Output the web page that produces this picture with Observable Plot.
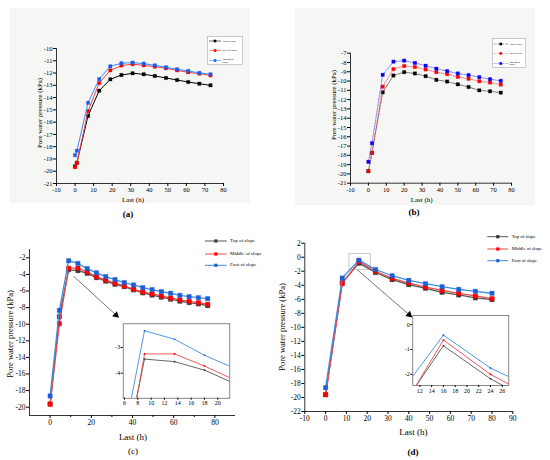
<!DOCTYPE html>
<html><head><meta charset="utf-8">
<script src="https://cdn.jsdelivr.net/npm/d3@7"></script>
<script src="https://cdn.jsdelivr.net/npm/@observablehq/plot@0.6"></script>
<style>
body{margin:0;background:#fff;}
#fig{position:relative;width:550px;height:460px;overflow:hidden;font-family:"Liberation Serif",serif;color:#000;}
.abs{position:absolute;}
.lbl{position:absolute;transform:translate(-50%,-50%);white-space:nowrap;font-family:"Liberation Serif",serif;}
.rot{position:absolute;transform:translate(-50%,-50%) rotate(-90deg);white-space:nowrap;font-family:"Liberation Serif",serif;}
</style></head>
<body><div id="fig"></div>
<script>
// ---------- data ----------
const seriesA = ["Top of slope", "Side of slope", "Bottom of slope"];
const xA = [0, 1, 7, 13, 19, 25, 31, 37, 43, 49, 55, 61, 67, 73];
const aTop = [-19.6, -19.3, -15.49, -13.44, -12.51, -12.16, -12.02, -12.1, -12.24, -12.4, -12.57, -12.73, -12.87, -13.0];
const aSide = [-19.67, -19.32, -15.1, -12.81, -11.78, -11.39, -11.28, -11.37, -11.48, -11.61, -11.78, -11.94, -12.05, -12.19];
const aBottom = [-18.69, -18.33, -14.43, -12.49, -11.45, -11.2, -11.15, -11.23, -11.37, -11.53, -11.69, -11.83, -11.99, -12.1];

const seriesB = ["Top of slope", "Mid of slope", "Bottom of slope"];
const xB = [0, 2, 8, 14, 20, 26, 32, 38, 44, 50, 56, 62, 68, 74];
const bTop = [-19.7, -17.73, -11.22, -9.4, -9.04, -9.18, -9.47, -9.87, -10.05, -10.35, -10.64, -11.0, -11.1, -11.25];
const bMid = [-19.7, -17.73, -10.6, -8.71, -8.38, -8.49, -8.75, -9.04, -9.25, -9.55, -9.76, -10.02, -10.16, -10.38];
const bBottom = [-18.7, -16.69, -9.33, -7.91, -7.8, -8.05, -8.35, -8.67, -8.93, -9.18, -9.36, -9.58, -9.8, -9.98];

const seriesCD = ["Top of slope", "Middle of slope", "Foot of slope"];
const xC = [0, 4.5, 9, 13.5, 18, 22.5, 27, 31.5, 36, 40.5, 45, 49.5, 54, 58.5, 63, 67.5, 72, 76.5];
const cTop = [-19.6, -9.1, -3.45, -3.55, -3.88, -4.4, -4.82, -5.2, -5.48, -5.87, -6.23, -6.5, -6.75, -6.99, -7.23, -7.4, -7.56, -7.77];
const cMid = [-19.66, -9.94, -3.25, -3.25, -3.72, -4.26, -4.7, -5.06, -5.39, -5.79, -6.11, -6.35, -6.6, -6.84, -7.08, -7.24, -7.4, -7.6];
const cFoot = [-18.65, -8.33, -2.35, -2.68, -3.3, -3.81, -4.26, -4.62, -4.98, -5.27, -5.59, -5.83, -6.07, -6.27, -6.52, -6.68, -6.8, -6.92];

const xD = [0, 8, 16, 24, 32, 40, 48, 56, 64, 72, 80];
const dTop = [-19.6, -3.63, -0.85, -2.18, -3.2, -3.91, -4.43, -5.0, -5.38, -5.8, -6.04];
const dMid = [-19.6, -3.77, -0.62, -2.0, -3.02, -3.68, -4.25, -4.72, -5.14, -5.52, -5.9];
const dFoot = [-18.6, -2.97, -0.42, -1.75, -2.64, -3.3, -3.77, -4.2, -4.58, -4.86, -5.14];

// tick labels
const ticksXab = [-10, 0, 10, 20, 30, 40, 50, 60, 70, 80];
const ticksYa = [-21, -20, -19, -18, -17, -16, -15, -14, -13, -12, -11, -10];
const ticksYb = [-21, -20, -19, -18, -17, -16, -15, -14, -13, -12, -11, -10, -9, -8, -7];
const ticksXc = [0, 20, 40, 60, 80];
const ticksYc = [-20, -18, -16, -14, -12, -10, -8, -6, -4, -2];
const ticksXd = [-10, 0, 10, 20, 30, 40, 50, 60, 70, 80, 90];
const ticksYd = [-22, -20, -18, -16, -14, -12, -10, -8, -6, -4, -2, 0, 2];
const ticksXcIn = [6, 8, 10, 12, 14, 16, 18, 20];
const ticksYcIn = [-4, -3];
const ticksXdIn = [12, 14, 16, 18, 20, 22, 24, 26];
const ticksYdIn = [-2, -1, 0];

// annotations (data units)
const cArrow = [{x1: 11.3, y1: -4.2, x2: 32.0, y2: -8.9}];
const dArrow = [{x1: 15.2, y1: -1.79, x2: 40.2, y2: -8.2}];
const dBox = [{x1: 11.5, x2: 21.7, y1: -1.79, y2: 0.48}];

// ---------- helpers ----------
const fig = document.getElementById("fig");
function rows(xs, ys, s) { return xs.map((x, i) => ({x, y: ys[i], s})); }
function place(el, left, top) { el.style.position = "absolute"; el.style.left = left + "px"; el.style.top = top + "px"; fig.appendChild(el); }
function text(t, x, y, size, cls, bold) {
  const d = document.createElement("div"); d.className = cls || "lbl";
  d.style.left = x + "px"; d.style.top = y + "px"; d.style.fontSize = size + "px";
  if (bold) d.style.fontWeight = "bold";
  d.textContent = t; fig.appendChild(d);
}
function box(x, y, w, h, bg) {
  const d = document.createElement("div"); d.className = "abs";
  Object.assign(d.style, {left: x + "px", top: y + "px", width: w + "px", height: h + "px", background: bg});
  fig.appendChild(d);
}

function panel(o) {
  const marks = [
    Plot.ruleX([o.xDomain[0]], {stroke: "#000", strokeWidth: 0.8}),
    Plot.ruleY([o.yDomain[0]], {stroke: "#000", strokeWidth: 0.8}),
    Plot.axisX(o.xTicks, {tickSize: 3, tickPadding: 1, tickFormat: d => String(d), label: null, fontSize: o.font}),
    Plot.axisY(o.yTicks, {tickSize: 3, tickPadding: 1, tickFormat: d => String(d), label: null, fontSize: o.font})
  ];
  if (o.xMinor) marks.push(Plot.axisX(o.xMinor, {tickSize: 2, tickFormat: () => "", label: null}));
  (o.extra || []).forEach(m => marks.push(m));
  o.series.forEach(s => {
    marks.push(Plot.line(s.data, {x: "x", y: "y", stroke: s.line, strokeWidth: o.sw, strokeDasharray: o.dash}));
    marks.push(Plot.dot(s.data, {x: "x", y: "y", symbol: "square", r: o.r, fill: s.marker, stroke: s.marker, strokeWidth: 0.3}));
  });
  (o.after || []).forEach(m => marks.push(m));
  const p = Plot.plot({
    width: o.w, height: o.h,
    marginLeft: o.ml, marginRight: o.mr, marginTop: o.mt, marginBottom: o.mb,
    x: {domain: o.xDomain}, y: {domain: o.yDomain},
    style: {fontFamily: "Liberation Serif, serif", fontSize: o.font + "px", background: "transparent", color: "#000", overflow: "visible"},
    marks
  });
  place(p, o.left, o.top);
}

function inset(o) {
  const marks = [
    Plot.frame({fill: "white", stroke: "#555", strokeWidth: 0.7}),
    Plot.axisX(o.xTicks, {tickSize: 2, tickPadding: 1, tickFormat: d => String(d), label: null}),
    Plot.axisY(o.yTicks, {tickSize: 2, tickPadding: 1, tickFormat: d => String(d), label: null})
  ];
  o.series.forEach(s => {
    marks.push(Plot.line(s.data, {x: "x", y: "y", stroke: s.line, strokeWidth: 0.9, clip: true}));
    marks.push(Plot.dot(s.data, {x: "x", y: "y", symbol: "square", r: 0.9, fill: s.marker, clip: true}));
  });
  const p = Plot.plot({
    width: o.w, height: o.h,
    marginLeft: o.ml, marginRight: o.mr, marginTop: o.mt, marginBottom: o.mb,
    x: {domain: o.xDomain}, y: {domain: o.yDomain},
    style: {fontFamily: "Liberation Serif, serif", fontSize: "6px", background: "transparent", color: "#000"},
    marks
  });
  place(p, o.left, o.top);
}

function legend(x, y, items, opt) {
  const ns = "http://www.w3.org/2000/svg";
  const svg = document.createElementNS(ns, "svg");
  svg.setAttribute("width", opt.w); svg.setAttribute("height", opt.h);
  svg.style.position = "absolute"; svg.style.left = x + "px"; svg.style.top = y + "px"; svg.style.overflow = "visible";
  if (opt.border) {
    const r = document.createElementNS(ns, "rect");
    r.setAttribute("x", 0.5); r.setAttribute("y", 0.5); r.setAttribute("width", opt.w - 1); r.setAttribute("height", opt.h - 1);
    r.setAttribute("fill", "#fff"); r.setAttribute("stroke", "#999"); r.setAttribute("stroke-width", 0.5);
    svg.appendChild(r);
  }
  items.forEach((it, i) => {
    const yy = opt.rows[i];
    const l = document.createElementNS(ns, "line");
    l.setAttribute("x1", opt.lx1); l.setAttribute("x2", opt.lx2); l.setAttribute("y1", yy); l.setAttribute("y2", yy);
    l.setAttribute("stroke", it.line); l.setAttribute("stroke-width", opt.sw);
    if (opt.dash) l.setAttribute("stroke-dasharray", opt.dash);
    svg.appendChild(l);
    const m = document.createElementNS(ns, "rect");
    const c = (opt.lx1 + opt.lx2) / 2;
    m.setAttribute("x", c - opt.ms / 2); m.setAttribute("y", yy - opt.ms / 2); m.setAttribute("width", opt.ms); m.setAttribute("height", opt.ms);
    m.setAttribute("fill", it.marker); svg.appendChild(m);
    const lines = it.label;
    lines.forEach((tline, k) => {
      const t = document.createElementNS(ns, "text");
      t.setAttribute("x", opt.tx); t.setAttribute("y", yy + (k - (lines.length - 1) / 2) * opt.fs * 1.05);
      t.setAttribute("dominant-baseline", "middle");
      t.setAttribute("font-family", "Liberation Serif, serif"); t.setAttribute("font-size", opt.fs);
      t.textContent = tline; svg.appendChild(t);
    });
  });
  fig.appendChild(svg);
}

// ---------- panel (a) ----------
box(10, 8, 240, 195, "#f6f6f4");
box(295, 8, 240, 197, "#f6f6f4");

const colA = [{line: "#000", marker: "#000"}, {line: "#ff4040", marker: "#ff0000"}, {line: "#3a8cff", marker: "#1a5cf0"}];
panel({
  left: 0, top: 0, w: 275, h: 230, ml: 56, mr: 52, mt: 48, mb: 47,
  xDomain: [-10, 80], yDomain: [-21, -10], xTicks: ticksXab, yTicks: ticksYa, font: 6.5,
  sw: 1, r: 1.9,
  series: [
    {data: rows(xA, aTop, seriesA[0]), ...colA[0]},
    {data: rows(xA, aSide, seriesA[1]), ...colA[1]},
    {data: rows(xA, aBottom, seriesA[2]), ...colA[2]}
  ]
});
text("Pore water pressure (kPa)", 39, 113, 6.8, "rot");
text("Last  (h)", 133, 200, 7);
text("(a)", 128, 214, 9, "lbl", true);
legend(207, 36, [
  {label: [seriesA[0]], ...colA[0]}, {label: [seriesA[1]], ...colA[1]}, {label: ["Bottom of", "slope"], ...colA[2]}
], {w: 36, h: 29, border: true, rows: [5, 14.5, 24.5], lx1: 2, lx2: 14, tx: 15.5, sw: 0.6, ms: 2.6, fs: 2.8});

// ---------- panel (b) ----------
const colB = [{line: "#333", marker: "#000"}, {line: "#ff5050", marker: "#ff0000"}, {line: "#5050ff", marker: "#0000ff"}];
panel({
  left: 275, top: 0, w: 275, h: 230, ml: 75, mr: 39, mt: 52.7, mb: 47.3,
  xDomain: [-10, 80], yDomain: [-21, -7], xTicks: ticksXab, yTicks: ticksYb, font: 6.5,
  sw: 0.7, r: 1.9, dash: "3,1.2,0.8,1.2",
  series: [
    {data: rows(xB, bTop, seriesB[0]), ...colB[0]},
    {data: rows(xB, bMid, seriesB[1]), ...colB[1]},
    {data: rows(xB, bBottom, seriesB[2]), ...colB[2]}
  ]
});
text("Pore water pressure (kPa)", 333, 105, 6.8, "rot");
text("Last  (h)", 421.7, 200, 7);
text("(b)", 414, 212, 9, "lbl", true);
legend(492.3, 38.3, [
  {label: [seriesB[0]], ...colB[0]}, {label: [seriesB[1]], ...colB[1]}, {label: ["Bottom of", "slope"], ...colB[2]}
], {w: 34, h: 30, border: true, rows: [6, 15.4, 25.5], lx1: 1.5, lx2: 16, tx: 17.5, sw: 0.5, ms: 2.6, fs: 2.6, dash: "2,0.8,0.6,0.8"});

// ---------- panel (c) ----------
const colC = [{line: "#555", marker: "#3a3a3a"}, {line: "#e84a4a", marker: "#ff0000"}, {line: "#3d8de0", marker: "#1f5fd6"}];
const arrowC = [
  Plot.link(cArrow, {x1: "x1", y1: "y1", x2: "x2", y2: "y2", stroke: "#555", strokeWidth: 0.8}),
  Plot.dot(cArrow, {x: "x2", y: "y2", symbol: "triangle", r: 2.6, fill: "#000", rotate: 132.8})
];
panel({
  left: 0, top: 230, w: 275, h: 230, ml: 29, mr: 40, mt: 19, mb: 45,
  xDomain: [-10, 90], yDomain: [-21, -1], xTicks: ticksXc, yTicks: ticksYc, font: 7.5,
  xMinor: [10, 30, 50, 70],
  sw: 1.3, r: 2.5,
  series: [
    {data: rows(xC, cTop, seriesCD[0]), ...colC[0]},
    {data: rows(xC, cMid, seriesCD[1]), ...colC[1]},
    {data: rows(xC, cFoot, seriesCD[2]), ...colC[2]}
  ],
  after: arrowC
});
inset({
  left: 105, top: 318, w: 128, h: 92, ml: 17.7, mr: 3.7, mt: 5.3, mb: 12.3,
  xDomain: [5.8, 21.8], yDomain: [-4.97, -2.08], xTicks: ticksXcIn, yTicks: ticksYcIn,
  series: [
    {data: rows(xC, cTop, seriesCD[0]), ...colC[0]},
    {data: rows(xC, cMid, seriesCD[1]), ...colC[1]},
    {data: rows(xC, cFoot, seriesCD[2]), ...colC[2]}
  ]
});
text("Pore water pressure (kPa)", 10, 334, 8.5, "rot");
text("Last  (h)", 133, 437, 9);
text("(c)", 133, 451, 9);
legend(200, 234, [
  {label: [seriesCD[0]], ...colC[0]}, {label: [seriesCD[1]], ...colC[1]}, {label: [seriesCD[2]], ...colC[2]}
], {w: 75, h: 36, rows: [7, 20, 31.3], lx1: 5, lx2: 26.7, tx: 30, sw: 1, ms: 3.2, fs: 5});

// ---------- panel (d) ----------
const colD = [{line: "#555", marker: "#333"}, {line: "#e84a4a", marker: "#ff0000"}, {line: "#3d8de0", marker: "#1f5fd6"}];
const extraD = [Plot.rect(dBox, {x1: "x1", x2: "x2", y1: "y1", y2: "y2", fill: "none", stroke: "#bbb", strokeWidth: 0.8})];
const arrowD = [
  Plot.link(dArrow, {x1: "x1", y1: "y1", x2: "x2", y2: "y2", stroke: "#555", strokeWidth: 0.8}),
  Plot.dot(dArrow, {x: "x2", y: "y2", symbol: "triangle", r: 2.6, fill: "#000", rotate: 131.1})
];
panel({
  left: 275, top: 230, w: 275, h: 230, ml: 29.3, mr: 37.7, mt: 12.7, mb: 49,
  xDomain: [-10, 90], yDomain: [-22, 2], xTicks: ticksXd, yTicks: ticksYd, font: 7.5,
  sw: 1.3, r: 2.5,
  extra: extraD,
  series: [
    {data: rows(xD, dTop, seriesCD[0]), ...colD[0]},
    {data: rows(xD, dMid, seriesCD[1]), ...colD[1]},
    {data: rows(xD, dFoot, seriesCD[2]), ...colD[2]}
  ],
  after: arrowD
});
inset({
  left: 395, top: 310, w: 118, h: 88, ml: 17.3, mr: 4.7, mt: 5, mb: 13,
  xDomain: [10.8, 27.1], yDomain: [-2.45, 0.37], xTicks: ticksXdIn, yTicks: ticksYdIn,
  series: [
    {data: rows(xD, dTop, seriesCD[0]), ...colD[0]},
    {data: rows(xD, dMid, seriesCD[1]), ...colD[1]},
    {data: rows(xD, dFoot, seriesCD[2]), ...colD[2]}
  ]
});
text("Pore water pressure (kPa)", 282.3, 327, 8.5, "rot");
text("Last  (h)", 413.3, 432, 9);
text("(d)", 413, 451.5, 9, "lbl", true);
legend(482, 230, [
  {label: [seriesCD[0]], ...colD[0]}, {label: [seriesCD[1]], ...colD[1]}, {label: [seriesCD[2]], ...colD[2]}
], {w: 68, h: 36, rows: [6.7, 19, 30.7], lx1: 5.3, lx2: 26.3, tx: 29.7, sw: 1, ms: 3.2, fs: 4.8});
</script>
</body></html>
